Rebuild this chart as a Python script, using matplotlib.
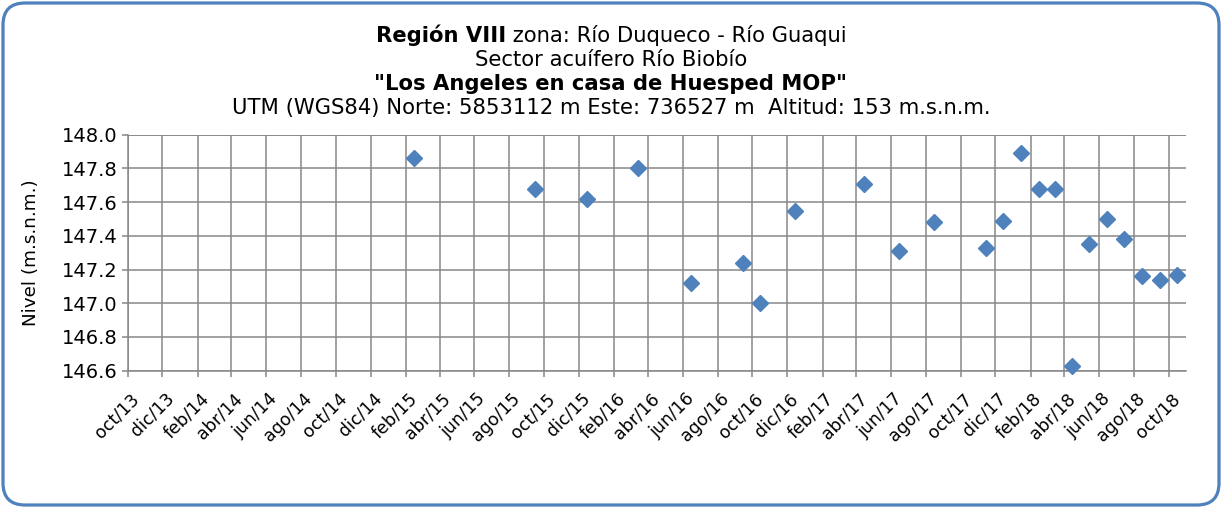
import matplotlib
matplotlib.use("Agg")
import matplotlib.pyplot as plt
import matplotlib.transforms as mtransforms
from matplotlib.patches import FancyBboxPatch
import datetime as dt

plt.rcParams['font.family'] = ['DejaVu Sans']

# Measurement dates and groundwater level (m.s.n.m.)
fechas = ["2015-02-15", "2015-09-15", "2015-12-15", "2016-03-15", "2016-06-15",
          "2016-09-15", "2016-10-15", "2016-12-15", "2017-04-15", "2017-06-15",
          "2017-08-15", "2017-11-15", "2017-12-15", "2018-01-15", "2018-02-15",
          "2018-03-15", "2018-04-15", "2018-05-15", "2018-06-15", "2018-07-15",
          "2018-08-15", "2018-09-15", "2018-10-15"]
nivel = [147.86, 147.68, 147.62, 147.80, 147.12,
         147.24, 147.00, 147.55, 147.71, 147.31,
         147.48, 147.33, 147.49, 147.89, 147.68,
         147.68, 146.63, 147.35, 147.50, 147.38,
         147.16, 147.14, 147.17]
meses = ["ene", "feb", "mar", "abr", "may", "jun",
         "jul", "ago", "sep", "oct", "nov", "dic"]
y_ticks = [146.6, 146.8, 147.0, 147.2, 147.4, 147.6, 147.8, 148.0]

titulo_negrita = "Región VIII"
titulo_resto = " zona: Río Duqueco - Río Guaqui"
subtitulo = "Sector acuífero Río Biobío"
pozo = "\"Los Angeles en casa de Huesped MOP\""
coordenadas = "UTM (WGS84) Norte: 5853112 m Este: 736527 m  Altitud: 153 m.s.n.m."
etiqueta_y = "Nivel (m.s.n.m.)"

W, H = 1222, 508
fig = plt.figure(figsize=(W / 100, H / 100), dpi=100)

# rounded chart frame
frame = FancyBboxPatch((3, 3), W - 6, H - 6,
                       boxstyle="round,pad=0,rounding_size=22",
                       transform=None, facecolor="none",
                       edgecolor="#4F81BD", linewidth=2.3, zorder=5)
fig.patches.append(frame)

ax = fig.add_axes([127.7 / W, 1 - 370.7 / H, (1186.3 - 127.7) / W, (370.7 - 134.7) / H])
ax.set_facecolor("none")

x = [dt.datetime.strptime(f, "%Y-%m-%d") for f in fechas]
ax.plot(x, nivel, linestyle="none", marker="D", markersize=8.2,
        color="#4F81BD", markeredgecolor="#4F81BD", zorder=3, clip_on=False)

# x axis: every two months from oct/13
ticks = []
y, m = 2013, 10
while (y, m) <= (2018, 10):
    ticks.append(dt.datetime(y, m, 1))
    m += 2
    if m > 12:
        m -= 12
        y += 1
ax.set_xlim(dt.datetime(2013, 10, 1), dt.datetime(2018, 11, 1))
ax.set_xticks(ticks)
ax.set_xticklabels([])

# rotated month labels, their upper end sitting just right of each tick
label_tr = ax.get_xaxis_transform() + mtransforms.ScaledTranslation(
    2 / 100, -19 / 100, fig.dpi_scale_trans)
for t in ticks:
    ax.text(t, 0, f"{meses[t.month - 1]}/{t.year % 100:02d}", transform=label_tr,
            rotation=45, ha="right", va="top", rotation_mode="anchor",
            fontsize=12.5, clip_on=False)

ax.set_ylim(146.6, 148.0)
ax.set_yticks(y_ticks)
ax.set_yticklabels([f"{v:.1f}" for v in y_ticks], fontsize=14)
ax.set_ylabel(etiqueta_y, fontsize=13.2, labelpad=16)

grid_c = "#878787"
ax.grid(True, color=grid_c, linewidth=1.1)
ax.set_axisbelow(True)
for s in ["top", "right"]:
    ax.spines[s].set_visible(False)
for s in ["left", "bottom"]:
    ax.spines[s].set_color(grid_c)
    ax.spines[s].set_linewidth(1.1)
ax.tick_params(axis="both", color=grid_c, width=1.1, length=4, pad=3)
# horizontal gridline along the top edge
ax.axhline(148.0, color=grid_c, linewidth=1.1, zorder=1)

# title block
cx = 0.5
fs_t = 15.2
renderer = fig.canvas.get_renderer()
t1 = fig.text(0, 0, titulo_negrita, fontsize=fs_t, fontweight="bold")
t2 = fig.text(0, 0, titulo_resto, fontsize=fs_t)
w1 = t1.get_window_extent(renderer).width
w2 = t2.get_window_extent(renderer).width
x0 = (W - (w1 + w2)) / 2
y1 = 1 - 35 / H
t1.set_position((x0 / W, y1))
t1.set_va("center")
t2.set_position(((x0 + w1) / W, y1))
t2.set_va("center")
fig.text(cx, 1 - 60 / H, subtitulo, fontsize=fs_t, ha="center", va="center")
fig.text(cx, 1 - 84 / H, pozo, fontsize=fs_t, fontweight="bold", ha="center", va="center")
fig.text(cx, 1 - 108 / H, coordenadas, fontsize=fs_t, ha="center", va="center")

fig.savefig("out.png", dpi=100)
